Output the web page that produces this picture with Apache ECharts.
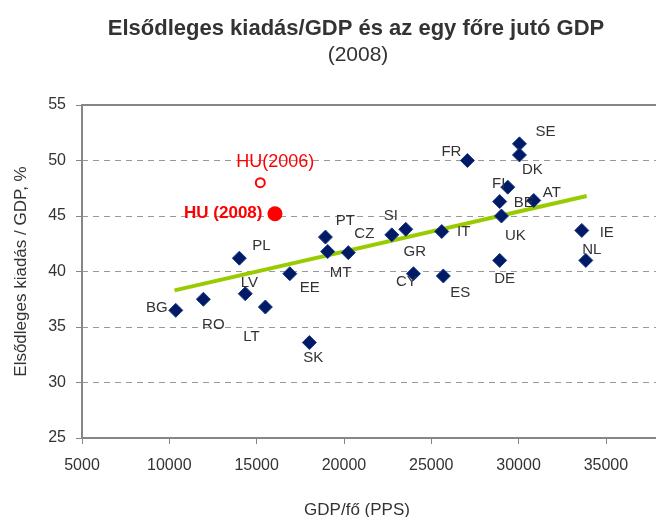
<!DOCTYPE html>
<html>
<head>
<meta charset="utf-8">
<title>Elsődleges kiadás/GDP</title>
<script src="https://cdn.jsdelivr.net/npm/echarts@6/dist/echarts.min.js"></script>
<style>
  html, body { margin: 0; padding: 0; background: #fff; }
  #chart { width: 656px; height: 517px; }
</style>
</head>
<body>
<div id="chart"></div>
<script>
// országok és értékek (leolvasva az ábráról)
var countries = ['BG', 'RO', 'PL', 'LV', 'LT', 'EE', 'SK', 'PT', 'MT', 'CZ', 'SI', 'GR', 'CY',
                 'IT', 'ES', 'FR', 'SE', 'DK', 'FI', 'BE', 'AT', 'UK', 'DE', 'IE', 'NL'];
var gdpPerCapita = [10370, 11950, 14010, 14350, 15500, 16900, 18020, 18940, 19070, 20250, 22740, 23540, 23980,
                    25600, 25690, 27070, 30050, 30050, 29380, 28920, 30870, 29020, 28920, 33620, 33850];
var primarySpending = [36.5, 37.5, 41.2, 38.0, 36.8, 39.8, 33.6, 43.1, 41.8, 41.7, 43.3, 43.8, 39.8,
                       43.6, 39.6, 50.0, 51.5, 50.5, 47.6, 46.3, 46.4, 45.0, 41.0, 43.7, 41.0];

// Magyarország két éve
var huNames = ['HU(2006)', 'HU (2008)'];
var huGdp = [15210, 16050];
var huSpending = [48.0, 45.2];

// trendvonal végpontjai
var trendX = [10300, 33900];
var trendY = [38.3, 46.8];

// a tengely jobb széle a képen kívül fut tovább
var xTicks = {min: 5000, max: 37870, step: 5000};
var yTicks = {min: 25, max: 55, step: 5};

// címkék eltolása (px) a pont közepéhez képest
var labelOffsets = {
    BG: [-19, -2], RO: [10, 26], PL: [22, -12], LV: [4, -11], LT: [-14, 30],
    EE: [20, 14], SK: [4, 15], PT: [20, -16], MT: [13, 21], CZ: [16, -19],
    SI: [-1, -19], GR: [9, 23], CY: [-7, 8], IT: [22, 0], ES: [17, 17],
    FR: [-16, -9], SE: [26, -12], DK: [13, 15], FI: [-9, -3], BE: [24, 1],
    AT: [18, -8], UK: [14, 20], DE: [5, 18], IE: [25, 2], NL: [6, -11]
};

var FONT = '"Liberation Sans", Arial, sans-serif';
var AXIS_GRAY = '#868686';

window.onload = function () {
    var chart = echarts.init(document.getElementById('chart'));

    var points = countries.map(function (c, i) {
        return {
            name: c,
            value: [gdpPerCapita[i], primarySpending[i]],
            label: {offset: labelOffsets[c]}
        };
    });

    var option = {
        animation: false,
        textStyle: {fontFamily: FONT},
        title: [{
            text: 'Elsődleges kiadás/GDP és az egy főre jutó GDP',
            left: 351, top: 13, textAlign: 'center',
            textStyle: {fontFamily: FONT, fontSize: 22, fontWeight: 'bold', color: '#333'}
        }, {
            text: '(2008)',
            left: 353, top: 40, textAlign: 'center',
            textStyle: {fontFamily: FONT, fontSize: 21, fontWeight: 'normal', color: '#333'}
        }],
        grid: {
            left: 82, top: 105, bottom: 79, right: 0,
            outerBoundsMode: 'none', containLabel: false
        },
        xAxis: [{
            type: 'value',
            min: xTicks.min, max: xTicks.max, interval: xTicks.step,
            name: 'GDP/fő (PPS)',
            nameLocation: 'middle', nameGap: 64,
            nameTextStyle: {fontSize: 17, color: '#333', padding: [0, 24, 0, 0]},
            axisLine: {lineStyle: {color: AXIS_GRAY, width: 2}},
            axisTick: {show: true, length: 6, lineStyle: {color: AXIS_GRAY}},
            axisLabel: {
                fontSize: 16, color: '#333', margin: 20, showMaxLabel: false,
                formatter: function (v) { return String(v); }
            },
            splitLine: {show: false}
        }, {
            // felső keretvonal
            type: 'value', position: 'top',
            min: xTicks.min, max: xTicks.max, interval: xTicks.step,
            axisLine: {show: true, lineStyle: {color: AXIS_GRAY, width: 2}},
            axisTick: {show: false},
            axisLabel: {show: false},
            splitLine: {show: false}
        }],
        yAxis: {
            type: 'value',
            min: yTicks.min, max: yTicks.max, interval: yTicks.step,
            name: 'Elsődleges kiadás / GDP, %',
            nameLocation: 'middle', nameGap: 52,
            nameTextStyle: {fontSize: 17, color: '#333'},
            axisLine: {show: true, lineStyle: {color: AXIS_GRAY, width: 2}},
            axisTick: {show: true, length: 6, lineStyle: {color: AXIS_GRAY}},
            axisLabel: {fontSize: 16, color: '#333', margin: 16},
            splitLine: {show: true, lineStyle: {color: '#999', type: [6, 5], width: 1}}
        },
        series: [{
            type: 'line',
            data: [[trendX[0], trendY[0]], [trendX[1], trendY[1]]],
            showSymbol: false,
            lineStyle: {color: '#99cc00', width: 4},
            z: 1
        }, {
            type: 'scatter',
            data: points,
            symbol: 'diamond',
            symbolSize: 14,
            itemStyle: {color: '#001a66', borderColor: '#173785', borderWidth: 1, opacity: 1},
            label: {
                show: true, position: 'inside', formatter: '{b}',
                fontSize: 15, color: '#333'
            },
            z: 3
        }, {
            type: 'scatter',
            data: [{name: huNames[0], value: [huGdp[0], huSpending[0]]}],
            symbol: 'circle',
            symbolSize: 9,
            itemStyle: {color: '#fff', borderColor: '#ff0000', borderWidth: 2, opacity: 1},
            label: {
                show: true, position: 'inside', offset: [15, -21], formatter: '{b}',
                fontSize: 18, color: '#ff0000'
            },
            z: 3
        }, {
            type: 'scatter',
            data: [{name: huNames[1], value: [huGdp[1], huSpending[1]]}],
            symbol: 'circle',
            symbolSize: 15,
            itemStyle: {color: '#ff0000', opacity: 1},
            label: {
                show: true, position: 'left', distance: 5, formatter: '{b}',
                fontSize: 17, fontWeight: 'bold', color: '#ff0000'
            },
            z: 3
        }]
    };

    chart.setOption(option);
};
</script>
</body>
</html>
